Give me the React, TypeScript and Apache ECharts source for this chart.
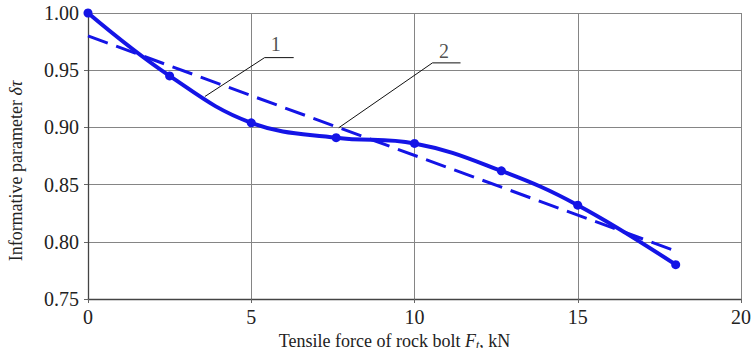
import React, { useEffect, useRef } from "react";
import * as echarts from "echarts";

const forceX = [0, 2.5, 5, 7.6, 10, 12.66, 15, 18];
const deltaY = [1.0, 0.945, 0.904, 0.891, 0.886, 0.862, 0.832, 0.78];
const trendX = [0, 18];
const trendY = [0.98, 0.792];
const leader1 = [[3.58, 0.927], [5.41, 0.961], [6.3, 0.961]];
const leader2 = [[7.68, 0.8997], [10.55, 0.9564], [11.41, 0.9564]];
const labels = [
  { text: "1", x: 5.75, y: 0.973 },
  { text: "2", x: 10.9, y: 0.967 },
];
const xTicks = [0, 5, 10, 15, 20];
const yTicks = [0.75, 0.8, 0.85, 0.9, 0.95, 1.0];

const BLUE = "#1414e6";
const FONT = "'Liberation Serif', 'Times New Roman', serif";

export default function App() {
  const ref = useRef<HTMLDivElement>(null);
  useEffect(() => {
    if (!ref.current) return;
    const chart = echarts.init(ref.current, null, { renderer: "svg" });
    chart.setOption({
      animation: false,
      textStyle: { fontFamily: FONT, color: "#222" },
      grid: { left: 88, right: 12, top: 13, bottom: 49, outerBoundsMode: "none", containLabel: false },
      xAxis: {
        type: "value",
        min: xTicks[0],
        max: xTicks[xTicks.length - 1],
        interval: 5,
        name: "{n|Tensile force of rock bolt }{i|F}{s|t}{n|, kN}",
        nameLocation: "middle",
        nameGap: 23,
        nameTextStyle: {
          padding: [0, 40, 0, 0],
          rich: {
            n: { fontFamily: FONT, fontSize: 18, lineHeight: 20, color: "#222" },
            i: { fontFamily: FONT, fontSize: 18, lineHeight: 20, fontStyle: "italic", color: "#222" },
            s: { fontFamily: FONT, fontSize: 12, lineHeight: 12, verticalAlign: "bottom", fontStyle: "italic", color: "#222" },
          },
        },
        axisLine: { lineStyle: { color: "#444", width: 1.3 } },
        axisTick: { show: true, length: 4, lineStyle: { color: "#666" } },
        axisLabel: {
          margin: 8,
          fontFamily: FONT,
          fontSize: 20,
          color: "#222",
        },
        splitLine: { show: true, lineStyle: { color: "#858585", width: 1 } },
      },
      yAxis: {
        type: "value",
        min: yTicks[0],
        max: yTicks[yTicks.length - 1],
        interval: 0.05,
        name: "{n|Informative parameter }{i|δτ}",
        nameLocation: "middle",
        nameGap: 63,
        nameRotate: 90,
        nameTextStyle: {
          padding: [0, 30, 0, 0],
          rich: {
            n: { fontFamily: FONT, fontSize: 18, color: "#222" },
            i: { fontFamily: FONT, fontSize: 18, fontStyle: "italic", color: "#222" },
          },
        },
        axisLine: { show: true, lineStyle: { color: "#444", width: 1.3 } },
        axisTick: { show: true, length: 4, lineStyle: { color: "#666" } },
        axisLabel: {
          margin: 9,
          fontFamily: FONT,
          fontSize: 20,
          color: "#222",
          formatter: (v: number) => v.toFixed(2),
        },
        splitLine: { show: true, lineStyle: { color: "#858585", width: 1 } },
      },
      series: [
        {
          type: "line",
          data: trendX.map((x, i) => [x, trendY[i]]),
          showSymbol: false,
          lineStyle: { color: BLUE, width: 3, type: [21, 9] },
          z: 2,
        },
        {
          type: "line",
          data: forceX.map((x, i) => [x, deltaY[i]]),
          smooth: 0.4,
          symbol: "circle",
          symbolSize: 9,
          itemStyle: { color: BLUE },
          lineStyle: { color: BLUE, width: 4 },
          z: 3,
        },
        {
          type: "line",
          data: leader1,
          showSymbol: false,
          lineStyle: { color: "#111", width: 1 },
          z: 4,
        },
        {
          type: "line",
          data: leader2,
          showSymbol: false,
          lineStyle: { color: "#111", width: 1 },
          z: 4,
        },
        {
          type: "scatter",
          data: labels.map((l) => ({ value: [l.x, l.y], name: l.text })),
          symbolSize: 0,
          label: {
            show: true,
            position: "inside",
            formatter: (p: any) => p.name,
            fontFamily: FONT,
            fontSize: 20,
            color: "#222",
          },
          z: 5,
        },
      ],
    });
    return () => chart.dispose();
  }, []);
  return (
    <div
      ref={ref}
      style={{ position: "fixed", left: 0, top: 0, width: 753, height: 348, background: "#fff" }}
    />
  );
}
